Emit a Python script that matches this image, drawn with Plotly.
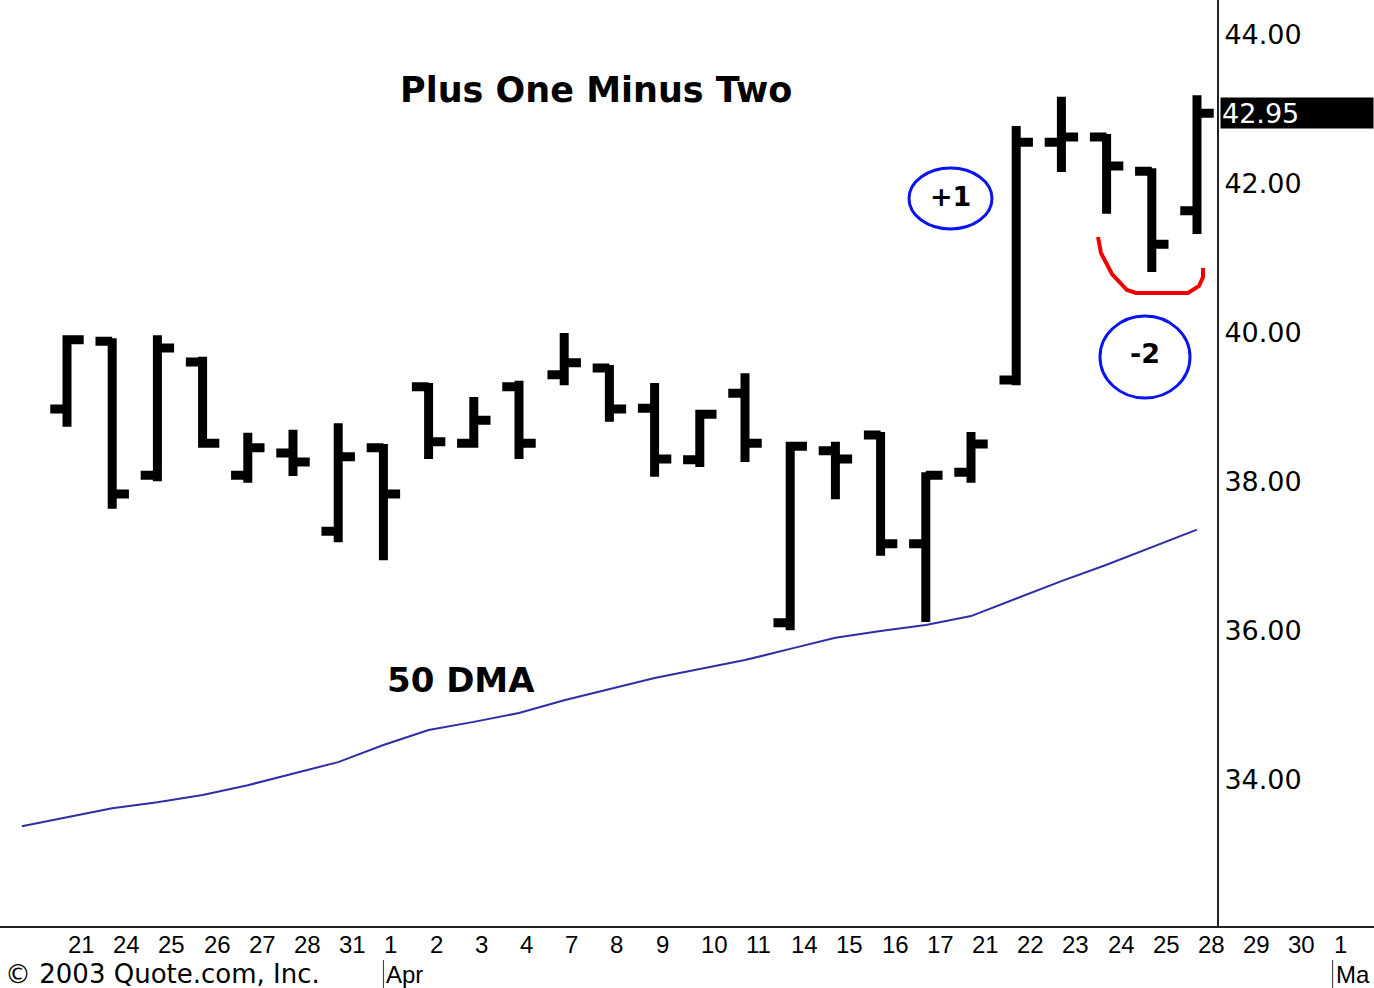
import plotly.graph_objects as go

# ---------------- data ----------------
date_labels = ["21", "24", "25", "26", "27", "28", "31", "1", "2", "3", "4", "7", "8", "9",
               "10", "11", "14", "15", "16", "17", "21", "22", "23", "24", "25", "28",
               "29", "30", "1"]
opens  = [38.98, 39.89, 38.09, 39.61, 38.09, 38.39, 37.34, 38.46, 39.28, 38.52, 39.28, 39.44, 39.53,
          38.99, 38.30, 39.19, 36.11, 38.42, 38.63, 37.17, 38.13, 39.37, 42.56, 42.63, 42.17, 41.64]
highs  = [39.97, 39.93, 39.97, 39.68, 38.66, 38.70, 38.79, 38.51, 39.33, 39.14, 39.36, 40.00, 39.57,
          39.33, 38.97, 39.46, 38.54, 38.54, 38.67, 38.13, 38.67, 42.78, 43.17, 42.67, 42.21, 43.19]
lows   = [38.74, 37.64, 38.01, 38.46, 37.99, 38.08, 37.19, 36.95, 38.31, 38.46, 38.31, 39.30, 38.81,
          38.07, 38.20, 38.27, 36.01, 37.77, 37.01, 36.12, 37.99, 39.30, 42.16, 41.60, 40.82, 41.33]
closes = [39.91, 37.84, 39.80, 38.52, 38.46, 38.27, 38.34, 37.84, 38.54, 38.83, 38.52, 39.60, 38.98,
          38.31, 38.91, 38.52, 38.48, 38.31, 37.17, 38.09, 38.51, 42.56, 42.63, 42.24, 41.19, 42.95]
# 50-day moving average, starting one session before the first bar
ma50 = [33.38, 33.50, 33.62, 33.70, 33.80, 33.93, 34.09, 34.24, 34.47, 34.67, 34.78, 34.90, 35.07,
        35.22, 35.37, 35.49, 35.61, 35.76, 35.91, 36.00, 36.08, 36.20, 36.44, 36.67, 36.89, 37.13, 37.36]
month_marks = [(7, "Apr"), (28, "Ma")]
last_price = closes[-1]

# ---------------- geometry helpers (figure pixels -> paper) ----------------
W, H = 1374, 988
PLOT_H = 926


def pxx(px):
    return px / W


def pxy(py):
    return 1 - py / PLOT_H


bar_x = list(range(len(opens)))
ma_x = list(range(-1, len(ma50) - 1))

fig = go.Figure()
fig.add_trace(go.Ohlc(
    x=bar_x, open=opens, high=highs, low=lows, close=closes,
    increasing=dict(line=dict(color="black", width=9)),
    decreasing=dict(line=dict(color="black", width=9)),
    tickwidth=0.37, showlegend=False, hoverinfo="skip"))
fig.add_trace(go.Scatter(
    x=ma_x, y=ma50, mode="lines", line=dict(color="#2e2ea6", width=2),
    showlegend=False, hoverinfo="skip"))

LBL_FONT = "Liberation Sans, Arial, sans-serif"
annotations = []
# date labels under the axis
for i, lab in enumerate(date_labels):
    annotations.append(dict(x=i, xref="x", y=pxy(944), yref="paper", text=lab,
                            showarrow=False, xanchor="left", yanchor="middle", xshift=0,
                            borderpad=0,
                            font=dict(family=LBL_FONT, size=24, color="black")))
shapes = []
for idx, mname in month_marks:
    annotations.append(dict(x=idx, xref="x", y=pxy(974), yref="paper", text=mname,
                            showarrow=False, xanchor="left", yanchor="middle", xshift=2,
                            borderpad=0,
                            font=dict(family=LBL_FONT, size=24, color="black")))
    shapes.append(dict(type="line", xref="x", yref="paper", x0=idx, x1=idx,
                       y0=pxy(960), y1=pxy(990), line=dict(color="#333", width=1)))

annotations.append(dict(x=pxx(4), y=pxy(974), xref="paper", yref="paper",
                        text="© 2003 Quote.com, Inc.", showarrow=False,
                        xanchor="left", yanchor="middle", borderpad=0,
                        font=dict(family="DejaVu Sans", size=26, color="black")))
# title & labels
annotations.append(dict(x=pxx(596), y=pxy(90), xref="paper", yref="paper",
                        text="<b>Plus One Minus Two</b>", showarrow=False,
                        xanchor="center", yanchor="middle",
                        font=dict(family="DejaVu Sans", size=35, color="black")))
annotations.append(dict(x=pxx(461), y=pxy(680), xref="paper", yref="paper",
                        text="<b>50 DMA</b>", showarrow=False,
                        xanchor="center", yanchor="middle",
                        font=dict(family="DejaVu Sans", size=34, color="black")))
annotations.append(dict(x=pxx(950), y=pxy(197), xref="paper", yref="paper",
                        text="<b>+1</b>", showarrow=False, xanchor="center", yanchor="middle",
                        font=dict(family="DejaVu Sans", size=27, color="black")))
annotations.append(dict(x=pxx(1145), y=pxy(353), xref="paper", yref="paper",
                        text="<b>-2</b>", showarrow=False, xanchor="center", yanchor="middle",
                        font=dict(family="DejaVu Sans", size=27, color="black")))
# last price box
annotations.append(dict(x=pxx(1220), y=last_price, xref="paper", yref="y",
                        text=f"{last_price:.2f}", showarrow=False, xanchor="left",
                        yanchor="middle", align="left", bgcolor="black", width=150, height=28,
                        borderpad=1,
                        font=dict(family="DejaVu Sans", size=27, color="white")))

# circles & red arc
shapes.append(dict(type="circle", xref="paper", yref="paper",
                   x0=pxx(909), x1=pxx(992), y0=pxy(229), y1=pxy(168),
                   line=dict(color="#0a14f0", width=3)))
shapes.append(dict(type="circle", xref="paper", yref="paper",
                   x0=pxx(1100), x1=pxx(1190), y0=pxy(398), y1=pxy(316),
                   line=dict(color="#0a14f0", width=3)))
arc_px = [(1098, 237), (1101, 253), (1112, 274), (1127, 290), (1136, 293),
          (1188, 293), (1199, 286), (1203, 277), (1203, 268)]
path = "M " + " L ".join(f"{pxx(a):.5f},{pxy(b):.5f}" for a, b in arc_px)
shapes.append(dict(type="path", xref="paper", yref="paper", path=path,
                   line=dict(color="#f00000", width=4)))

y_top = 44 + 35 / 74.5
y_bot = 44 - (PLOT_H - 35) / 74.5
x_left = -67 / 45.2
x_right = (W - 67) / 45.2

fig.update_layout(
    width=W, height=H,
    margin=dict(l=0, r=0, t=0, b=H - PLOT_H, autoexpand=False),
    paper_bgcolor="white", plot_bgcolor="white",
    showlegend=False,
    annotations=annotations, shapes=shapes,
    xaxis=dict(range=[x_left, x_right], domain=[0, 1], showgrid=False, zeroline=False,
               showticklabels=False, ticks="", showline=True, linecolor="#222", linewidth=2,
               rangeslider=dict(visible=False), fixedrange=True),
    yaxis=dict(range=[y_bot, y_top], anchor="free", position=1218 / W, side="right",
               showgrid=False, zeroline=False, showline=True, linecolor="#222", linewidth=2,
               ticks="", tickvals=[34, 36, 38, 40, 42, 44], tickformat=".2f",
               tickfont=dict(family="DejaVu Sans", size=27, color="black"),
               fixedrange=True),
)

fig.write_html("out.html", config={"displayModeBar": False},
               post_script="document.body.style.margin='0';document.body.style.padding='0';")
